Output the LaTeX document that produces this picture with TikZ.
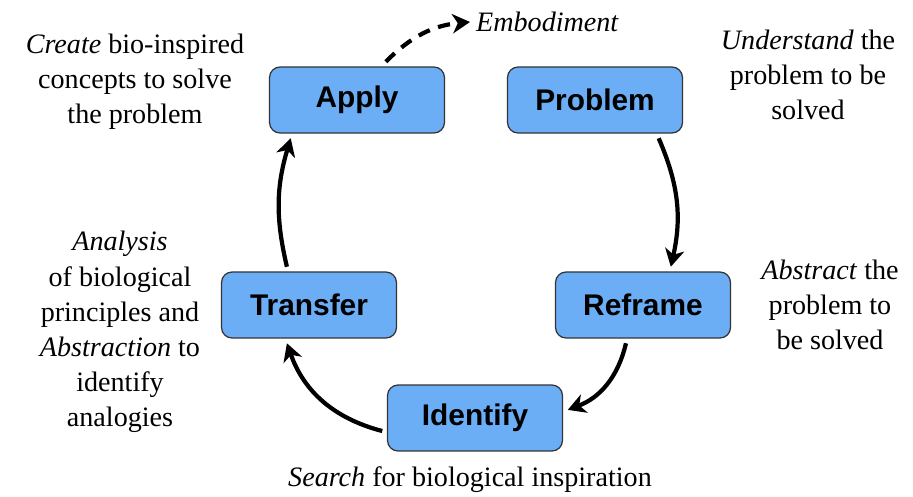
\documentclass[tikz,border=0pt]{standalone}
\usepackage{fontspec}
\setmainfont{Liberation Serif}
\setsansfont{Liberation Sans}
\usetikzlibrary{arrows.meta}
\definecolor{boxblue}{RGB}{108,174,246}

\begin{document}
\begin{tikzpicture}[x=0.02cm, y=-0.02cm,
    stage/.style={draw=black!80, fill=boxblue, rounded corners=6pt, line width=0.7pt,
      minimum width=3.5cm, minimum height=1.32cm, outer sep=3pt,
      font=\sffamily\bfseries\fontsize{17}{20}\selectfont},
    note/.style={align=center, font=\fontsize{16}{20}\selectfont},
    flow/.style={line width=2.4pt, -{Stealth[length=10pt, width=11pt, inset=3pt]}}]
  \useasboundingbox (0,0) rectangle (913,497);
  \node[stage] (apply) at (357,100) {Apply};
  \node[stage] (problem) at (595,100) {Problem};
  \node[stage] (reframe) at (643,305) {Reframe};
  \node[stage] (identify) at (475,418) {Identify};
  \node[stage] (transfer) at (309,305) {Transfer};
  \node[note] (create) at (135,82) {\textit{Create} bio-inspired\\concepts to solve\\the problem};
  \node[note] (understand) at (808,75) {\textit{Understand} the\\problem to be\\solved};
  \node[note] (abstract) at (830,305) {\textit{Abstract} the\\problem to\\be solved};
  \node[note] (analysis) at (120,332) {\textit{Analysis}\\of biological\\principles and\\\textit{Abstraction} to\\identify\\analogies};
  \node[note] (search) at (470,480) {\textit{Search} for biological inspiration};
  \node[note, anchor=west] (embodiment) at (470,22) {\textit{Embodiment}};
  % cycle
  \draw[flow] (problem.-31) to[bend left=18] (reframe.54);
  \draw[flow] (reframe.-114) to[bend left=28] (identify.5);
  \draw[flow] (identify.188) to[bend left=28] (transfer.-120);
  \draw[flow] (transfer.120) to[bend left=15] (apply.-150);
  \draw[flow, dashed, dash pattern=on 7pt off 5pt] (apply.53) to[bend left=20] (embodiment.west);
\end{tikzpicture}
\end{document}
